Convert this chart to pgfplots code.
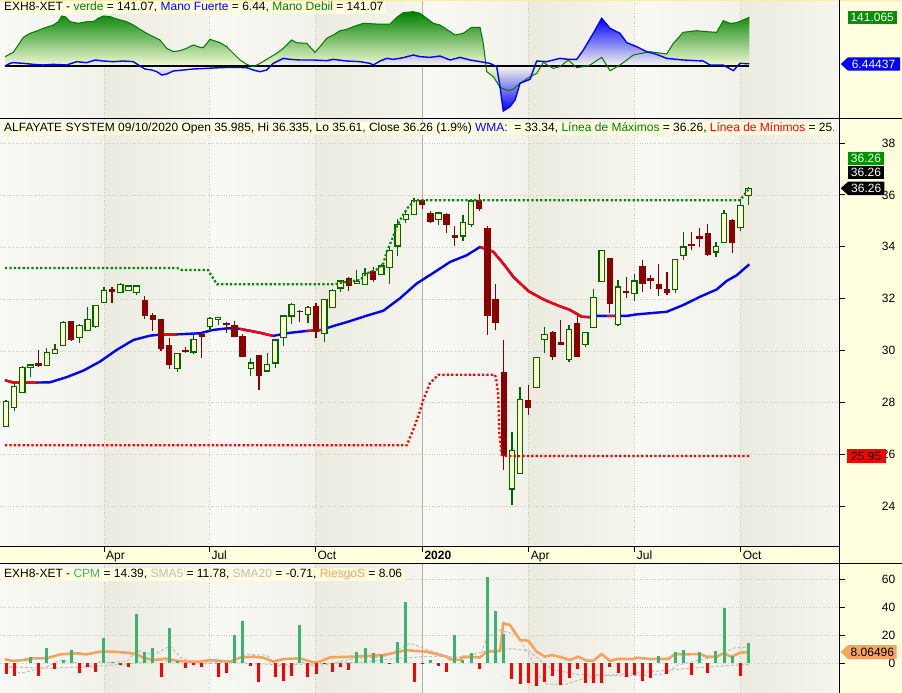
\documentclass[border=0pt]{standalone}
\usepackage{pgfplots}
\pgfplotsset{compat=1.18}
\usepackage{pgfplotstable}
\usepackage{fontspec}
\setmainfont{Liberation Sans}

\definecolor{bgyel}{RGB}{255,255,224}
\definecolor{lightA}{RGB}{249,249,245}
\definecolor{lightB}{RGB}{242,242,235}
\definecolor{darkA}{RGB}{236,235,224}
\definecolor{darkB}{RGB}{245,245,238}
\definecolor{gridc}{RGB}{205,205,185}
\definecolor{sepc}{RGB}{175,175,175}
\definecolor{cgreen}{RGB}{0,100,0}
\definecolor{cfill}{RGB}{255,255,204}
\definecolor{cred}{RGB}{139,0,0}
\definecolor{maxg}{RGB}{0,140,0}
\definecolor{cpmg}{RGB}{60,179,113}
\definecolor{orng}{RGB}{244,164,96}
\definecolor{smag}{RGB}{190,190,190}
\definecolor{dgreen}{RGB}{0,128,0}
\definecolor{lgreen}{RGB}{0,120,0}
\definecolor{paleg}{RGB}{245,250,215}
\definecolor{negg}{RGB}{150,205,110}
\definecolor{paleb}{RGB}{248,248,236}
\definecolor{boxg}{RGB}{0,145,0}
\definecolor{topline}{RGB}{255,235,170}

% ---------- candles (week index, open, high, low, close) ----------
\pgfplotstableread{
i O H L C
0 27.09 28.10 27.05 28.05
1 27.83 28.77 27.67 28.63
2 28.41 29.40 28.38 29.37
3 29.37 29.48 29.01 29.46
5 29.45 30.10 29.43 29.95
6 29.91 30.26 29.90 30.06
7 30.22 31.17 30.20 31.09
9 30.53 31.04 30.30 30.99
10 30.78 31.70 30.77 31.22
11 30.93 31.78 30.90 31.76
12 31.88 32.47 31.86 32.32
14 32.26 32.63 32.25 32.55
15 32.33 32.52 32.30 32.50
16 32.24 32.52 32.15 32.50
21 29.33 29.93 29.20 29.91
23 29.96 30.68 29.88 30.45
25 30.93 31.32 30.77 31.26
26 31.22 31.30 31.00 31.30
30 29.33 29.72 29.04 29.53
32 29.23 29.91 29.20 29.49
33 29.53 30.45 29.33 30.42
34 30.53 31.37 30.20 31.35
35 31.35 31.84 31.05 31.80
37 31.41 31.74 31.07 31.68
39 30.68 32.00 30.36 31.99
40 31.68 32.37 31.66 32.32
41 32.43 32.72 32.28 32.70
43 32.59 33.12 32.58 32.69
44 32.57 33.18 32.55 32.99
46 32.95 33.35 32.94 33.27
47 33.22 34.02 32.60 33.88
48 34.05 35.10 33.65 34.87
49 35.07 35.35 34.95 35.27
50 35.27 35.90 35.25 35.81
53 35.07 35.35 34.87 35.32
56 34.43 35.23 34.23 34.95
57 34.87 35.87 34.78 35.78
62 24.68 26.87 24.04 26.15
63 25.26 28.60 25.25 28.14
65 28.60 29.78 28.58 29.76
66 30.45 30.93 29.93 30.64
69 29.68 31.00 29.59 30.83
71 30.26 30.73 30.17 30.72
72 30.91 32.38 30.90 32.07
73 32.67 33.90 32.66 33.88
75 31.03 32.73 30.96 32.47
77 32.22 32.96 31.93 32.70
82 32.37 33.55 32.24 33.53
83 33.69 34.57 33.50 34.01
87 33.82 34.20 33.63 34.04
88 34.17 35.45 34.15 35.30
90 34.76 35.87 34.62 35.62
91 35.985 36.335 35.61 36.26
}\bull

\pgfplotstableread{
i O H L C
4 29.53 30.04 29.37 29.40
8 31.15 31.17 30.40 30.42
13 32.38 32.47 31.86 32.27
17 31.96 32.12 31.23 31.36
18 31.38 31.47 30.78 31.20
19 31.23 31.25 30.01 30.08
20 30.23 30.49 29.32 29.46
22 30.04 30.15 29.92 29.95
24 30.65 30.74 29.74 30.55
27 31.09 31.10 30.68 30.99
28 31.00 31.15 30.53 30.55
29 30.58 30.65 29.77 29.78
31 29.85 29.85 28.50 29.05
36 31.54 31.58 31.13 31.49
38 31.73 31.84 30.51 30.74
42 32.83 32.85 32.32 32.51
45 33.09 33.22 32.64 32.73
51 35.83 35.85 35.46 35.62
52 35.33 35.40 34.95 34.97
54 35.30 35.32 34.53 34.87
55 34.46 34.82 34.05 34.36
58 35.83 36.04 35.38 35.46
59 34.76 34.80 30.62 31.35
60 32.00 32.60 30.81 31.09
61 29.18 30.42 25.42 25.93
64 28.12 28.69 27.51 27.80
67 30.72 30.75 29.65 29.78
68 30.33 31.19 30.22 30.23
70 31.07 31.45 29.77 29.78
74 33.57 33.60 31.47 31.80
76 32.31 32.86 32.03 32.22
78 33.27 33.50 32.28 32.60
79 32.83 32.92 32.37 32.70
80 32.58 33.35 32.13 32.37
81 32.37 33.05 32.15 32.24
84 34.12 34.59 33.88 34.05
85 34.42 34.74 34.01 34.31
86 34.53 34.91 33.65 33.69
89 35.04 35.10 33.76 34.17
}\bear

% ---------- WMA ----------
\pgfplotstableread{
i v
-0.12 28.87
0.89 28.78
3.76 28.78
5.39 28.79
7.44 28.99
9.47 29.24
11.52 29.59
13.57 30.04
15.60 30.42
17.65 30.59
19.28 30.64
20.96 30.64
23.77 30.68
25.37 30.81
27.08 30.87
28.31 30.87
28.68 30.85
31.13 30.70
32.72 30.58
34.80 30.70
36.85 30.77
38.69 30.81
40.11 30.96
42.16 31.15
44.20 31.36
46.24 31.55
48.28 32.03
50.33 32.60
52.37 33.01
54.41 33.43
56.46 33.69
58.09 34.01
59.72 33.82
60.94 33.37
62.17 32.86
64.01 32.31
65.85 31.99
67.49 31.77
69.12 31.58
70.55 31.32
71.57 31.30
72.39 31.35
76.07 31.35
77.29 31.41
80.97 31.51
83.00 31.77
85.05 32.09
87.09 32.37
88.32 32.70
89.55 32.92
91.09 33.34
}\wma

% ---------- Linea de Maximos ----------
\pgfplotstableread{
i v
-0.12 33.20
20.96 33.20
21.57 33.12
24.75 33.12
25.86 32.57
40.32 32.57
41.75 32.67
43.38 32.73
44.20 32.99
45.43 33.14
46.24 33.37
46.65 33.82
47.27 34.27
47.88 34.78
48.49 35.17
49.30 35.55
50.12 35.81
89.95 35.81
90.56 36.06
91.09 36.26
}\maxl

% ---------- Linea de Minimos ----------
\pgfplotstableread{
i v
-0.12 26.36
49.10 26.36
49.91 26.96
50.65 27.60
51.07 28.05
51.96 28.76
52.98 29.08
59.93 29.08
60.13 28.82
60.33 28.24
60.45 26.85
60.75 26.00
60.94 25.95
91.09 25.95
}\minl

% ---------- top panel: verde / Mano Debil ----------
\pgfplotstableread{
i v
-0.12 27.1
0.89 39.6
1.51 60.9
2.12 83.1
2.94 94.7
3.76 101.4
4.57 109.2
5.80 118.8
6.41 128.5
6.83 144.9
7.23 143.0
7.84 128.5
8.86 123.7
9.89 128.5
10.70 128.5
11.31 138.2
11.92 144.9
12.75 143.0
13.57 136.2
14.79 128.5
15.60 118.8
16.42 106.3
17.24 94.7
18.05 85.0
18.87 75.4
19.69 51.2
20.50 41.5
21.32 44.4
22.14 51.2
22.95 60.9
23.77 54.1
24.18 53.1
25.00 77.3
26.23 67.6
27.05 56.0
27.86 36.7
28.68 17.4
29.50 4.8
30.31 -1.9
31.13 7.7
31.95 19.3
33.17 36.7
33.98 51.2
35.01 75.4
35.62 67.6
36.85 65.7
37.87 39.6
38.48 56.0
39.30 80.2
40.11 89.9
40.93 102.4
41.75 106.3
42.56 114.0
43.79 123.7
45.43 121.7
47.06 121.7
47.88 141.1
48.69 154.6
49.91 157.5
50.74 152.7
51.56 138.2
52.37 123.7
53.19 118.8
54.41 100.0
55.02 89.9
56.04 94.7
57.07 112.1
58.09 112.1
58.49 65.7
58.91 -16.4
59.72 -30.9
60.54 -61.8
61.56 -71.5
62.17 -67.6
62.99 -50.2
64.22 -30.9
65.04 -21.3
65.85 10.6
66.67 -1.9
67.07 -6.8
67.89 -1.9
68.91 17.4
69.94 -4.8
70.75 -1.9
71.57 2.9
73.00 25.1
74.02 -13.5
75.25 2.9
76.88 31.9
78.92 41.5
80.97 34.8
81.78 65.7
83.00 97.6
84.64 102.4
85.87 99.5
87.09 97.6
87.90 131.4
88.73 123.7
89.55 125.6
91.09 141.07
}\verde

% ---------- top panel: Mano Fuerte ----------
\pgfplotstableread{
i v
-0.12 0
0.49 7.7
0.89 9.7
2.12 7.7
3.35 4.8
4.57 2.9
5.80 4.8
7.44 2.9
8.66 12.6
9.89 9.7
10.91 17.4
11.92 14.5
13.15 12.6
14.38 14.5
15.60 12.6
16.42 0
17.03 -8.7
17.86 -11.6
18.47 -16.4
19.08 -26.1
19.69 -23.2
20.50 -14.5
21.73 -11.6
22.95 -8.7
24.60 -6.8
26.23 -4.8
27.86 -3.9
29.50 -4.8
30.31 -11.6
31.13 -16.4
31.95 -11.6
32.76 7.7
33.98 22.2
34.80 19.3
36.03 17.4
37.66 17.4
39.30 15.5
40.11 19.3
41.75 14.5
43.38 12.6
44.61 7.7
45.01 2.9
45.83 14.5
46.65 22.2
47.46 19.3
48.69 24.2
49.91 31.9
50.74 27.1
51.96 25.1
53.19 29.0
54.41 17.4
55.64 25.1
56.86 17.4
58.09 12.6
59.31 7.7
60.13 -1.9
60.54 -59.9
60.94 -130.4
61.76 -117.9
62.38 -98.6
62.99 -50.2
64.22 -38.6
65.04 14.5
66.26 12.6
67.89 22.2
68.91 19.3
69.94 19.3
70.75 46.4
71.97 94.7
73.00 138.2
74.02 109.2
75.25 94.7
76.07 67.6
77.29 56.0
78.52 41.5
79.74 33.8
80.97 22.2
83.00 17.4
85.45 14.5
86.27 2.9
87.90 2.9
89.13 -13.5
89.95 7.7
91.09 6.44
}\fuerte

% ---------- bottom panel ----------
\pgfplotstableread{
i v
3 4.3
5 10.7
7 2.4
8 9.5
12 17.8
13 0.7
16 35.2
17 8.1
18 10.7
20 25.0
21 1.7
28 20.2
29 30.2
36 27.4
43 8.1
44 10.7
45 7.1
46 5.7
48 15.2
49 43.8
52 2.4
55 20.2
56 2.4
57 7.1
59 61.4
60 37.4
61 20.9
80 5.2
82 7.9
83 9.5
85 7.9
87 8.8
88 39.3
89 5.2
91 14.39
}\cpmpos

\pgfplotstableread{
i v
0 -7.9
1 -8.8
4 -8.8
6 -4.0
9 -7.1
10 -2.4
11 -6.4
14 -1.4
15 -2.4
19 -10.0
22 -3.1
23 -1.0
24 -2.4
26 -10.0
27 -7.1
30 -1.9
31 -13.1
33 -9.5
34 -12.4
35 -8.8
37 -10.0
38 -7.9
39 -0.5
40 -5.9
41 -2.4
42 -4.8
47 -0.7
50 -13.1
51 -0.5
53 -1.9
54 -5.9
58 -4.3
62 -11.4
63 -15.0
64 -14.3
65 -16.0
66 -13.1
67 -8.8
68 -15.7
69 -10.4
70 -4.3
71 -14.3
72 -14.3
73 -13.8
74 -2.4
75 -7.1
76 -9.5
77 -8.3
78 -12.4
79 -10.4
81 -7.9
84 -8.3
86 -7.1
90 -8.8
}\cpmneg

\pgfplotstableread{
i v
-0.12 2.83
0.89 1.64
2.12 2.36
3.35 3.55
4.99 3.55
6.62 6.40
8.66 7.12
9.89 6.40
11.52 8.31
13.15 8.31
14.79 7.60
15.93 6.64
16.83 4.02
18.05 2.36
19.69 3.31
20.92 1.88
22.14 1.17
23.77 1.17
25.00 2.36
27.45 1.17
28.68 4.02
30.31 4.74
31.54 4.02
32.76 1.17
33.98 3.07
36.03 3.55
37.66 0.69
38.48 1.17
39.71 4.26
42.56 4.74
44.20 5.21
46.24 5.93
47.88 7.83
48.98 9.50
50.33 8.79
51.56 8.31
52.37 7.12
54.00 4.74
54.41 2.83
55.64 2.36
56.04 4.74
58.09 4.26
58.91 8.31
60.54 8.79
60.94 28.55
61.76 27.36
62.99 16.64
64.01 16.17
65.04 8.31
66.05 4.74
66.87 5.93
68.10 4.26
69.12 2.36
70.13 4.74
71.16 1.88
71.97 1.88
73.00 6.64
74.02 1.64
74.84 3.07
76.88 3.07
77.29 4.02
78.92 3.07
81.16 3.07
81.99 6.64
83.00 6.40
85.05 6.64
85.87 4.74
87.09 4.74
87.90 7.12
88.93 4.74
89.95 7.60
91.09 8.06
}\riesgo

\pgfplotstableread{
i v
-0.12 -0.2
1.72 -7.3
3.35 -4.9
4.99 -2.5
6.62 2.4
8.25 1.2
9.89 -2.5
11.52 1.2
13.15 0.7
14.79 1.2
16.02 9.0
18.05 5.9
20.10 12.4
21.53 3.5
23.77 -0.2
25.82 -0.2
27.86 2.4
29.50 6.4
31.95 5.9
33.17 -1.4
34.80 -2.5
36.03 1.2
37.66 -2.0
39.71 -0.6
41.75 2.4
44.20 4.3
46.24 4.3
47.88 9.5
49.51 14.3
51.56 10.0
54.41 4.5
56.86 3.5
58.09 4.7
58.91 17.8
60.54 23.8
62.58 20.2
64.01 7.1
65.44 -9.6
66.26 -14.9
68.71 -14.9
70.75 -10.8
72.79 -8.4
75.65 -9.1
78.92 -8.4
80.97 -7.3
82.19 -1.4
85.05 2.4
87.09 4.7
89.13 10.9
91.09 11.78
}\smafive

\pgfplotstableread{
i v
-0.12 -2.5
5 -3.5
10 -2.5
15 -0.5
18 2.0
22 1.0
28 0.5
33 -1.0
38 -0.5
44 1.0
48 3.5
52 5.0
56 4.5
59 9.0
62 10.5
64 9.0
65.5 2.0
67 -4.5
70 -8.0
74 -8.5
78 -6.5
82 -4.5
86 -2.5
91.09 -0.71
}\smatw

\pgfplotsset{
  panel/.style={
    scale only axis, width=839pt,
    xmin=-0.7353, xmax=102.0833,
    axis line style={draw=none},
    major tick length=0pt, tick style={draw=none},
    xtick={12.01,24.9,37.9,64.06,77.04,90.04},
    xticklabel={\relax}, yticklabel={\relax},
    xmajorgrids,
    major grid style={draw=gridc, line width=0.8pt, dash pattern=on 1pt off 1.6pt},
    extra x ticks={51.0},
    extra x tick labels={\relax},
    extra x tick style={major grid style={draw=sepc, solid, line width=1pt}},
  },
  wick/.style={draw=none, mark=none,
    error bars/.cd, y dir=plus, y explicit, error mark=none,
    error bar style={draw=#1, solid, line width=1.2pt}},
  body/.style 2 args={draw=none, mark=none,
    error bars/.cd, y dir=plus, y explicit, error mark=none,
    error bar style={draw=#1, solid, line width=#2}},
}

\begin{document}
\begin{tikzpicture}[font=\fontsize{12pt}{14pt}\selectfont]

% ---------- backgrounds ----------
\begin{scope}[x=1pt,y=-1pt]
\foreach \a/\b/\lc/\rc in {0/104/lightA/lightB, 104/209.3/darkA/darkB, 209.3/315.3/lightA/lightB, 315.3/422.3/darkA/darkB, 422.3/528.7/lightA/lightB, 528.7/634.7/darkA/darkB, 634.7/740.7/lightA/lightB, 740.7/839/darkA/darkB}{
  \foreach \ya/\yb in {0/118.5,118.5/546.5,563.5/693}{
    \shade[left color=\lc, right color=\rc] (\a,\ya) rectangle (\b,\yb);
  }
}
\fill[bgyel] (839,0) rectangle (902,693);
\fill[bgyel] (0,546.5) rectangle (839,563.5);
\fill[topline] (0,0) rectangle (902,1);
\end{scope}

% ---------- top panel ----------
\begin{axis}[panel, at={(0pt,-1pt)}, anchor=north west, height=117pt,
  ymin=-150.7, ymax=188.4, ytick=\empty]
\addplot[draw=none, top color=dgreen, bottom color=paleg] table[x=i, y expr={max(\thisrow{v},0)}]{\verde} \closedcycle;
\addplot[draw=none, top color=paleg, bottom color=negg] table[x=i, y expr={min(\thisrow{v},0)}]{\verde} \closedcycle;
\addplot[draw=none, top color=blue, bottom color=paleb] table[x=i, y expr={max(\thisrow{v},0)}]{\fuerte} \closedcycle;
\addplot[draw=none, top color=paleb, bottom color=blue] table[x=i, y expr={min(\thisrow{v},0)}]{\fuerte} \closedcycle;
\addplot[black, line width=1.2pt] coordinates {(-0.12,0) (91.09,0)};
\addplot[lgreen, line width=1pt] table[x=i, y=v]{\verde};
\addplot[blue, line width=1.4pt] table[x=i, y=v]{\fuerte};
\end{axis}

% ---------- main panel ----------
\begin{axis}[panel, at={(0pt,-118.5pt)}, anchor=north west, height=428pt,
  ymin=22.457, ymax=38.964, ytick={24,26,...,38}, ymajorgrids]
\addplot[blue, line width=2.4pt] table[x=i, y=v]{\wma};
\addplot[red, line width=2.4pt] coordinates {(-0.12,28.87) (0.89,28.78) (3.76,28.78)};
\addplot[red, line width=2.4pt] coordinates {(19.28,30.64) (20.96,30.64)};
\addplot[red, line width=2.4pt] coordinates {(28.68,30.85) (31.13,30.70) (32.72,30.58)};
\addplot[red, line width=2.4pt] coordinates {(36.85,30.77) (38.69,30.81)};
\addplot[red, line width=2.4pt] coordinates {(58.09,34.01) (59.72,33.82) (60.94,33.37) (62.17,32.86) (64.01,32.31) (65.85,31.99) (67.49,31.77) (69.12,31.58) (70.55,31.32) (71.57,31.30)};
\addplot[red, line width=2.4pt] coordinates {(73.6,31.35) (74.6,31.35)};
% wicks
\addplot[wick=cgreen] table[x=i, y=L, y error plus expr={\thisrow{H}-\thisrow{L}}]{\bull};
\addplot[wick=cred] table[x=i, y=L, y error plus expr={\thisrow{H}-\thisrow{L}}]{\bear};
% bodies
\addplot[body={cgreen}{6.6pt}] table[x=i, y expr={\thisrow{O}-0.025}, y error plus expr={\thisrow{C}-\thisrow{O}+0.05}]{\bull};
\addplot[body={cfill}{4.2pt}] table[x=i, y expr={\thisrow{O}+0.025}, y error plus expr={\thisrow{C}-\thisrow{O}-0.05}]{\bull};
\addplot[body={cred}{6.4pt}] table[x=i, y=C, y error plus expr={\thisrow{O}-\thisrow{C}}]{\bear};
% support / resistance lines
\addplot[maxg, line width=2.2pt, dash pattern=on 2.2pt off 2.2pt] table[x=i, y=v]{\maxl};
\addplot[red, line width=2.2pt, dash pattern=on 2.2pt off 2.2pt] table[x=i, y=v]{\minl};
\end{axis}

% ---------- bottom panel ----------
\begin{axis}[panel, at={(0pt,-563.5pt)}, anchor=north west, height=129.5pt,
  ymin=-21.21, ymax=71.29, ytick={0,20,40,60}, ymajorgrids]
\addplot[smag, line width=1pt, dash pattern=on 3pt off 2pt] table[x=i, y=v]{\smatw};
\addplot[smag, line width=1pt, dash pattern=on 3pt off 2pt] table[x=i, y=v]{\smafive};
\addplot[orng, line width=2.6pt] table[x=i, y=v]{\riesgo};
\addplot[ycomb, cpmg, line width=3pt] table[x=i, y=v]{\cpmpos};
\addplot[ycomb, red, line width=3pt] table[x=i, y=v]{\cpmneg};
\end{axis}

% ---------- frame, labels, titles ----------
\begin{scope}[x=1pt,y=-1pt]
\draw[line width=1.3pt] (0,118.5) -- (902,118.5);
\draw[line width=1.3pt] (0,546.5) -- (839,546.5);
\draw[line width=1.3pt] (0,563.5) -- (902,563.5);
\draw[line width=1.3pt] (839.3,0) -- (839.3,693);

\foreach \x/\t in {104/Apr,209.3/Jul,315.3/Oct,528.7/Apr,634.7/Jul,740.7/Oct}{
  \draw[line width=1pt] (\x,546.5) -- (\x,552);
  \node[anchor=base west, inner sep=0pt] at (\x+2,559.5) {\t};
}
\draw[line width=1pt] (422.3,546.5) -- (422.3,552);
\node[anchor=base west, inner sep=0pt] at (424.3,559.5) {\textbf{2020}};

\foreach \v/\yy in {38/143,36/194.9,34/246.7,32/298.6,30/350.4,28/402.3,26/454.2,24/506}{
  \draw[line width=1pt] (839,\yy) -- (845,\yy);
  \node[anchor=east, inner sep=0pt] at (895.5,\yy) {\v};
}
\foreach \v/\yy in {60/579.3,40/607.3,20/635.3,0/663.3}{
  \draw[line width=1pt] (839,\yy) -- (845,\yy);
  \node[anchor=east, inner sep=0pt] at (895.5,\yy) {\v};
}

% value boxes
\fill[boxg] (847.7,10.7) rectangle (896.7,24);
\node[white, inner sep=0pt] at (872.2,17.35) {141.065};
\fill[blue] (840.7,64) -- (848,57.3) -- (900,57.3) -- (900,70.7) -- (848,70.7) -- cycle;
\node[white, inner sep=0pt] at (873.5,64) {6.44437};

\fill[boxg] (847.7,151.7) rectangle (884.3,165.2);
\node[white, inner sep=0pt] at (866,158.45) {36.26};
\fill[black] (847.7,165.5) rectangle (884.3,179);
\node[white, inner sep=0pt] at (866,172.25) {36.26};
\fill[black] (840.7,188.3) -- (848,181.7) -- (884.3,181.7) -- (884.3,195) -- (848,195) -- cycle;
\node[white, inner sep=0pt] at (866.2,188.3) {36.26};
\fill[red] (846.7,449.3) rectangle (885.7,463.3);
\node[inner sep=0pt] at (866.2,456.3) {25.95};

\fill[orng] (840.7,652) -- (848,645) -- (896.7,645) -- (896.7,659) -- (848,659) -- cycle;
\node[inner sep=0pt] at (872.4,652) {8.06496};

% titles
\node[anchor=north west, fill=bgyel, inner xsep=1.5pt, inner ysep=0.8pt, text height=8.9pt, text depth=2.6pt] at (2.5,1)
  {EXH8-XET - \textcolor{dgreen}{verde} = 141.07, \textcolor{blue}{Mano Fuerte} = 6.44, \textcolor{dgreen}{Mano Debil} = 141.07};
\begin{scope}
\clip (0,119.5) rectangle (833.5,140);
\node[anchor=north west, fill=bgyel, inner xsep=1.5pt, inner ysep=0.8pt, text height=8.9pt, text depth=2.6pt] at (2.5,122)
  {ALFAYATE SYSTEM 09/10/2020 Open 35.985, Hi 36.335, Lo 35.61, Close 36.26 (1.9\%) \textcolor{blue}{WMA:}\ \ = 33.34, \textcolor{dgreen}{Línea de Máximos} = 36.26, \textcolor{red}{Línea de Mínimos} = 25.95};
\end{scope}
\node[anchor=north west, fill=bgyel, inner xsep=1.5pt, inner ysep=0.8pt, text height=8.9pt, text depth=2.6pt] at (2.5,567.3)
  {EXH8-XET - \textcolor{cpmg}{CPM} = 14.39, \textcolor{smag}{SMA5} = 11.78, \textcolor{smag}{SMA20} = -0.71, \textcolor{orng}{RiesgoS} = 8.06};
\end{scope}

\pgfresetboundingbox
\path[use as bounding box] (0pt,0pt) rectangle (902pt,-693pt);
\end{tikzpicture}
\end{document}
